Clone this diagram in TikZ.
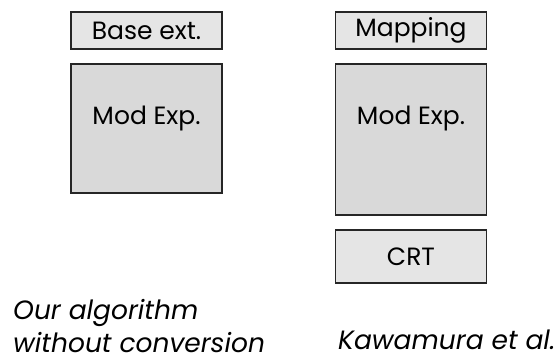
\documentclass[tikz,border=0pt]{standalone}
\usepackage{fontspec}
\setmainfont{Poppins}
\colorlet{lightbox}{black!10}
\colorlet{darkbox}{black!15}
\tikzset{
  boxfont/.style={font=\fontsize{25}{29}\selectfont},
  smallbox/.style={draw=black!85, line width=1.1pt, fill=lightbox,
    minimum width=151pt, minimum height=37pt, inner sep=0pt, boxfont},
  bigbox/.style={smallbox, fill=darkbox},
  caption/.style={inner sep=0pt, align=left,
    font=\fontsize{26.5}{33}\selectfont\itshape}
}

\begin{document}
\begin{tikzpicture}[x=1pt,y=-1pt]
\useasboundingbox (0,0) rectangle (559,360);
% left column
\node[smallbox] (baseext) at (146.5,30.5) {Base ext.};
\node[bigbox,minimum height=129pt,
  label={[boxfont,anchor=center,yshift=-55pt]north:Mod Exp.}]
  (modexpL) at (146.5,128.5) {};
\node[caption,anchor=base west] (ours) at (13,352) {Our algorithm\\without conversion};
% right column
\node[smallbox] (mapping) at (411,30.5) {Mapping};
\node[bigbox,minimum height=151pt,
  label={[boxfont,anchor=center,yshift=-55pt]north:Mod Exp.}]
  (modexpR) at (411,139.5) {};
\node[smallbox,minimum height=53pt] (crt) at (411,256.5) {CRT};
\node[caption,anchor=base west] (kawamura) at (338,349) {Kawamura et al.};
\end{tikzpicture}
\end{document}
